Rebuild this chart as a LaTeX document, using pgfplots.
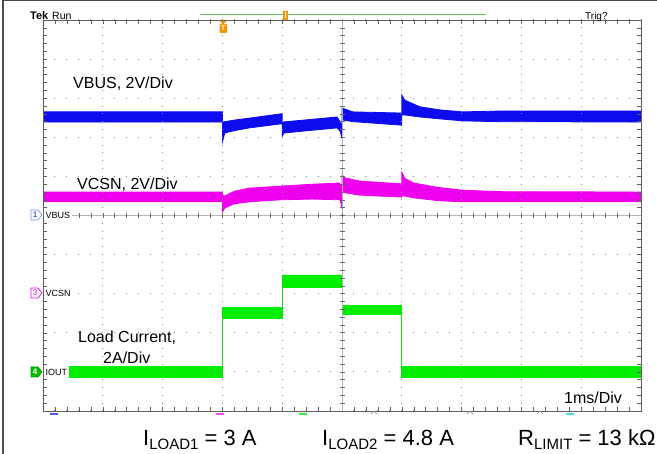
\documentclass[border=0pt]{standalone}
\usepackage{pgfplots}
\pgfplotsset{compat=1.18}
\usepackage{fontspec}
\setmainfont{Liberation Sans}
\definecolor{cbus}{RGB}{12,12,238}
\definecolor{ccsn}{RGB}{238,0,238}
\definecolor{cout}{RGB}{0,238,0}
\definecolor{gridc}{RGB}{135,135,135}
\definecolor{centc}{RGB}{180,180,180}
\definecolor{ctick}{RGB}{105,105,105}
\definecolor{framec}{RGB}{95,95,95}
\definecolor{orng}{RGB}{245,150,0}
\definecolor{tgreen}{RGB}{110,190,100}
\definecolor{lblue}{RGB}{110,150,255}
\definecolor{ccyan}{RGB}{80,220,230}
\begin{document}
\begin{tikzpicture}[x=1pt,y=1pt]
\path[use as bounding box] (0,0) rectangle (657,454);
\draw[line width=1.3pt, black!70] (3,0) -- (3,453.3) -- (657,453.3);
\begin{axis}[
  at={(43pt,43pt)}, anchor=south west,
  width=598pt, height=391pt, scale only axis,
  xmin=0, xmax=10, ymin=-5, ymax=5,
  xtick={0,...,10}, ytick={-5,...,5},
  minor tick num=4,
  xticklabels={}, yticklabels={},
  tick align=inside, tick pos=both,
  major tick length=4pt, minor tick length=4pt,
  every tick/.style={framec, line width=0.5pt},
  axis line style={framec, line width=0.9pt},
  grid=major,
  major x grid style={gridc, line width=1pt, dash pattern=on 1pt off 6.82pt, dash phase=0.5pt},
  major y grid style={gridc, line width=1pt, dash pattern=on 1pt off 10.96pt, dash phase=0.5pt},
  axis on top,
]
% VBUS, 2 V/div (band: upper envelope, then lower envelope back)
\addplot[fill=cbus, draw=cbus, line width=0.8pt] coordinates {
 (0,2.65) (3.0,2.65) (3.0,2.39) (3.2,2.44) (3.45,2.49) (3.98,2.60) (4.0,2.60)
 (4.0,2.39) (4.5,2.46) (4.92,2.52) (5.0,2.30) (5.0,2.75) (5.18,2.65) (6.0,2.62)
 (6.0,3.08) (6.05,2.95) (6.3,2.78) (6.64,2.70) (7.02,2.65) (7.6,2.67) (10,2.67)
 (10,2.39) (7.6,2.40) (7.02,2.42) (6.64,2.47) (6.3,2.52) (6.05,2.57) (6.0,2.57)
 (6.0,2.31) (5.18,2.40) (5.02,2.44) (5.0,2.44) (5.0,1.98) (4.97,2.15) (4.92,2.24)
 (4.5,2.18) (4.03,2.11) (4.0,2.03) (4.0,2.34) (3.96,2.34) (3.45,2.24) (3.2,2.17)
 (3.04,2.11) (3.0,1.88) (3.0,2.39) (0,2.39)} -- cycle;
% VCSN, 2 V/div
\addplot[fill=ccsn, draw=ccsn, line width=0.8pt] coordinates {
 (0,0.60) (3.0,0.60) (3.0,0.52) (3.04,0.50) (3.2,0.62) (3.45,0.70) (3.96,0.75)
 (4.5,0.80) (4.95,0.83) (5.0,0.75) (5.0,1.05) (5.05,0.96) (5.3,0.88) (6.0,0.81)
 (6.0,1.11) (6.05,0.95) (6.2,0.83) (6.6,0.72) (7.0,0.65) (7.6,0.61) (10,0.60)
 (10,0.35) (7.6,0.35) (7.0,0.35) (6.6,0.38) (6.2,0.45) (6.05,0.50) (6.0,0.50)
 (6.0,0.47) (5.3,0.52) (5.05,0.58) (5.0,0.58) (5.0,0.19) (4.97,0.40) (4.5,0.42)
 (3.96,0.40) (3.45,0.35) (3.2,0.30) (3.04,0.19) (3.0,0.09) (3.0,0.35) (0,0.35)} -- cycle;
% IOUT, 2 A/div
\addplot[fill=cout, draw=cout, line width=0.8pt] coordinates {
 (0,-3.87) (3,-3.87) (3,-2.35) (4,-2.35) (4,-1.52) (5,-1.52) (5,-2.29) (6,-2.29)
 (6,-3.87) (10,-3.87)
 (10,-4.13) (6,-4.13) (6,-2.54) (5,-2.54) (5,-1.83) (4,-1.83) (4,-2.62) (3,-2.62)
 (3,-4.13) (0,-4.13)} -- cycle;
\end{axis}
% centre cross with ticks
\draw[centc, line width=0.7pt] (43,238.5) -- (641,238.5);
\draw[centc, line width=0.7pt] (342,43) -- (342,434);
\foreach \i in {0,...,50} {\draw[ctick, line width=0.6pt] ({43+11.96*\i},236) -- ++(0,5);}
\foreach \i in {0,...,50} {\draw[ctick, line width=0.6pt] (339.5,{43+7.82*\i}) -- ++(5,0);}
% channel markers and labels
\draw[lblue, fill=white, line width=0.7pt] (31,234) -- (38,234) -- (42,239) -- (38,244) -- (31,244) -- cycle;
\node[cbus, font=\fontsize{8}{8}\selectfont, inner sep=0] at (35,239) {1};
\node[anchor=west, fill=white, inner xsep=2pt, inner ysep=1.5pt, font=\fontsize{9}{10}\selectfont] at (43.5,238.5) {VBUS};
\draw[ccsn, fill=white, line width=0.7pt] (31,156) -- (38,156) -- (42,161) -- (38,166) -- (31,166) -- cycle;
\node[ccsn, font=\fontsize{8}{8}\selectfont, inner sep=0] at (35,161) {3};
\node[anchor=west, fill=white, inner xsep=2pt, inner ysep=1.5pt, font=\fontsize{9}{10}\selectfont] at (43.5,161) {VCSN};
\draw[green!60!black, fill=green!75!black, line width=0.7pt] (31,77) -- (38,77) -- (42,82) -- (38,87) -- (31,87) -- cycle;
\node[white, font=\bfseries\fontsize{8}{8}\selectfont, inner sep=0] at (35,82) {4};
\node[anchor=west, fill=white, inner xsep=2pt, inner ysep=2.5pt, font=\fontsize{9}{10}\selectfont] at (43.5,82) {IOUT};
% top decorations
\node[anchor=base west, inner sep=0, font=\bfseries\fontsize{11}{12}\selectfont] at (30,434.5) {Tek};
\node[anchor=base west, inner sep=0, font=\fontsize{10.5}{12}\selectfont] at (52,434.5) {Run};
\node[anchor=base west, inner sep=0, font=\fontsize{10}{12}\selectfont] at (585,434.5) {Trig?};
\draw[tgreen, line width=1pt] (200,439) -- (486,439);
\fill[orng] (283,434) rectangle (288,443);
\draw[white, line width=0.8pt] (285.5,435.5) -- (285.5,441.5);
\fill[orng] (219.5,433) -- (227,433) -- (223.25,430) -- cycle;
\fill[orng, rounded corners=1pt] (219.5,421) rectangle (227,430);
\node[white, font=\bfseries\fontsize{7}{7}\selectfont, inner sep=0] at (223.25,425.5) {T};
% bottom channel indicators
\fill[cbus!70] (50,38.5) rectangle (58,40.5);
\fill[ccsn!70] (216,38.5) rectangle (224,40.5);
\fill[cout!80] (299,38.5) rectangle (307,40.5);
\fill[ccyan] (566,38.5) rectangle (574,40.5);
\foreach \cx in {374,470,540} {\draw[gridc, line width=0.6pt] ({\cx-3},40) -- (\cx,43) -- ({\cx+3},40);}
% annotations
\node[anchor=base west, inner sep=0, font=\fontsize{16}{19}\selectfont] at (73,365) {VBUS, 2V/Div};
\node[anchor=base west, inner sep=0, font=\fontsize{16}{19}\selectfont] at (77,264) {VCSN, 2V/Div};
\node[anchor=base west, inner sep=0, font=\fontsize{16}{19}\selectfont] at (78,111) {Load Current,};
\node[anchor=base west, inner sep=0, font=\fontsize{16}{19}\selectfont] at (103,90) {2A/Div};
\node[anchor=base west, inner sep=0, font=\fontsize{16}{19}\selectfont] at (564,50) {1ms/Div};
\node[anchor=base west, inner sep=0, font=\fontsize{22}{24}\selectfont] at (143,8) {I\raisebox{-4pt}{\fontsize{15}{15}\selectfont LOAD1} = 3 A};
\node[anchor=base west, inner sep=0, font=\fontsize{22}{24}\selectfont] at (322,8) {I\raisebox{-4pt}{\fontsize{15}{15}\selectfont LOAD2} = 4.8 A};
\node[anchor=base west, inner sep=0, font=\fontsize{22}{24}\selectfont] at (518,8) {R\raisebox{-4pt}{\fontsize{15}{15}\selectfont LIMIT} = 13 k\symbol{"03A9}};
\end{tikzpicture}
\end{document}
